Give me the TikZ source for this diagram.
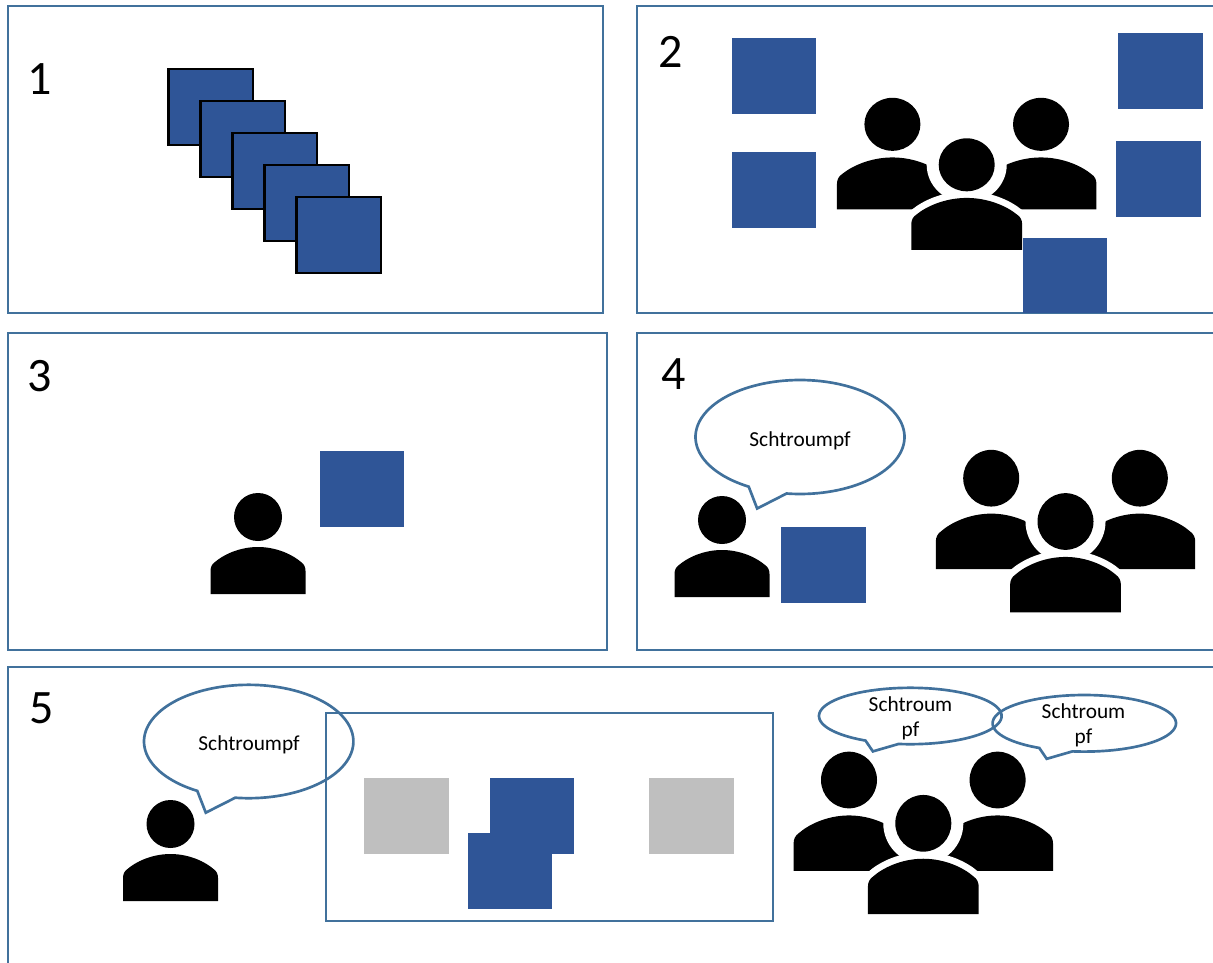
\documentclass[tikz,border=0pt]{standalone}
\usepackage{fontspec}
\setmainfont{Carlito}
\definecolor{panelblue}{HTML}{41719C}
\definecolor{sqblue}{HTML}{2F5597}
\definecolor{sqgray}{HTML}{BFBFBF}
\tikzset{
  panel/.style={draw=panelblue,line width=2.1pt},
  blueSq/.style={fill=sqblue},
  graySq/.style={fill=sqgray},
  stackSq/.style={fill=sqblue,draw=black,line width=1.9pt},
  bubbleLine/.style={draw=panelblue,line width=2pt,line join=miter},
  digit/.style={inner sep=0pt,font=\fontsize{36}{36}\selectfont},
  saying/.style={inner sep=0pt,align=center,font=\fontsize{16}{19}\selectfont}
}
% body shape, relative to the head centre, head radius 24
\newcommand{\bodypath}{(-47.5,77) -- (-47.5,54) .. controls (-47.5,50) and (-46,47) .. (-43,45) .. controls (-35,38) and (-19,30) .. (0,30) .. controls (19,30) and (35,38) .. (43,45) .. controls (46,47) and (47.5,50) .. (47.5,54) -- (47.5,77) -- cycle}
\newcommand{\person}[4]{% x, y, scale, extra y-scale
  \begin{scope}[shift={(#1,#2)},xscale=#3,yscale=#3*#4]
    \fill[black] (0,0) ellipse [x radius=24,y radius=24];
    \fill[black] \bodypath;
  \end{scope}}
\newcommand{\crowd}[3]{% x, y of the front head, extra y-scale
  \person{#1-74.3}{#2-43.3*#3}{1.167}{#3*1.012}
  \person{#1+74.3}{#2-43.3*#3}{1.167}{#3*1.012}
  \begin{scope}[shift={(#1,#2)},xscale=1.167,yscale=1.181*#3]
    \fill[white] (0,0) ellipse [x radius=34.3,y radius=34.3];
    \draw[white,line width=10pt,line join=round] \bodypath;
    \fill[black] (0,0) ellipse [x radius=24,y radius=24];
    \fill[black] \bodypath;
  \end{scope}}
\newcommand{\bubble}[4]{% cx, cy, rx, ry
  \draw[bubbleLine] plot[domain=119.4:457.4,samples=120] ({#1+#3*cos(\x)},{#2+#4*sin(\x)}) -- ({#1-0.41*#3},{#2+1.255*#4}) -- cycle;}
\begin{document}
\begin{tikzpicture}[x=0.75pt,y=-0.75pt]
\useasboundingbox (0,0) rectangle (1213,963);
\clip (0,0) rectangle (1213,963);
% panels
\draw[panel] (8,6) rectangle (603,313);
\draw[panel] (637,6) rectangle (1240,313);
\draw[panel] (8,333) rectangle (607,650);
\draw[panel] (637,333) rectangle (1240,650);
\draw[panel] (8,667) rectangle (1240,990);
\node[digit] (n1) at (39.5,79.5) {1};
\node[digit] (n2) at (670.5,51.5) {2};
\node[digit] (n3) at (39.5,376.5) {3};
\node[digit] (n4) at (673.5,374.5) {4};
\node[digit] (n5) at (41.5,708.5) {5};
% panel 1
\foreach \i in {0,...,4}
  \draw[stackSq] ({168.5+32*\i},{69+32*\i}) rectangle ({253+32*\i},{145+32*\i});
% panel 2
\crowd{966.7}{164.8}{0.935}
\fill[blueSq] (732,38) rectangle (816,114);
\fill[blueSq] (1118,33) rectangle (1203,109);
\fill[blueSq] (732,152) rectangle (816,228);
\fill[blueSq] (1116,141) rectangle (1201,217);
\fill[blueSq] (1023,238) rectangle (1107,313);
% panel 3
\person{258}{517}{1}{1}
\fill[blueSq] (320,451) rectangle (404,527);
% panel 4
\bubble{800}{437}{104.5}{57}
\node[saying,anchor=base] (s4) at (800,446) {Schtroumpf};
\person{722}{520}{1}{1}
\fill[blueSq] (781,527) rectangle (866,603);
\crowd{1065.5}{521.5}{1}
% panel 5
\draw[panel] (326,713) rectangle (773,921);
\bubble{248.7}{741.5}{104.7}{56.7}
\node[saying,anchor=base] (s5) at (249,750) {Schtroumpf};
\person{170.5}{824}{1}{1}
\fill[graySq] (364,778) rectangle (449,854);
\fill[graySq] (649,778) rectangle (734,854);
\fill[blueSq] (490,778) rectangle (574,854);
\fill[blueSq] (468,833) rectangle (552,909);
\crowd{923.3}{823.3}{1}
\bubble{910.3}{716}{91.3}{28.2}
\bubble{1084.3}{723.3}{91.7}{28.3}
\node[saying] (s6) at (910.5,718) {Schtroum\\pf};
\node[saying] (s7) at (1083.5,725) {Schtroum\\pf};
\end{tikzpicture}
\end{document}
